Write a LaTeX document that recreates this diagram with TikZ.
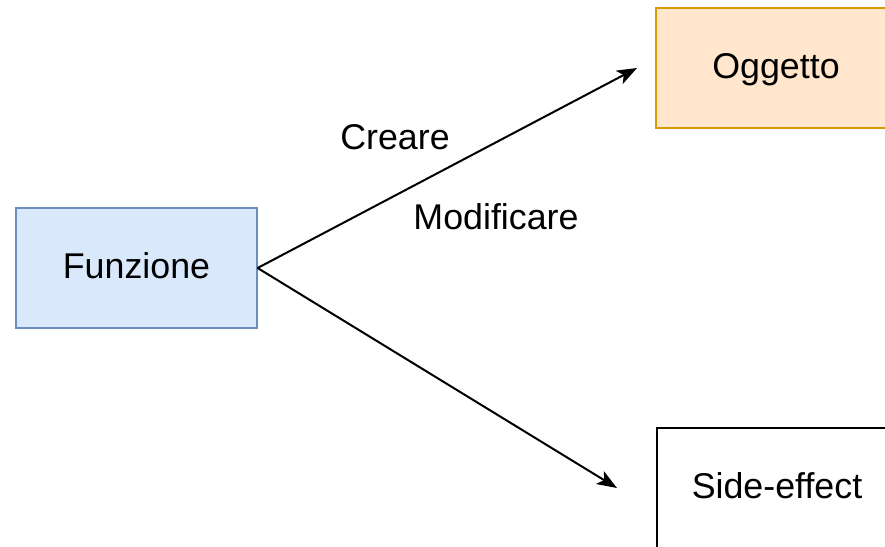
\documentclass[tikz,border=0pt]{standalone}
\usepackage{fontspec}
\setmainfont{Liberation Sans}
\usetikzlibrary{arrows.meta}
\tikzset{>={Stealth[length=10pt,width=7.5pt,inset=2.5pt]}}
\definecolor{bluefill}{HTML}{DAE8FC}
\definecolor{blueline}{HTML}{6C8EBF}
\definecolor{orangefill}{HTML}{FFE6CC}
\definecolor{orangeline}{HTML}{D79B00}
\tikzset{
  box/.style={draw, line width=0.6pt, minimum width=120pt, minimum height=60pt,
    inner sep=0pt, text height=13pt, text depth=2.5pt,
    font=\fontsize{17.9}{21}\selectfont},
  lbl/.style={font=\fontsize{17.9}{21}\selectfont, inner sep=0pt},
}

\begin{document}
\begin{tikzpicture}[x=0.5pt,y=-0.5pt]
  \useasboundingbox (0,0) rectangle (885,547);
  \clip (0,0) rectangle (885,547);
  % the three boxes
  \node[box, fill=bluefill, draw=blueline, minimum width=120.5pt] (funzione) at (136.5,268) {Funzione};
  \node[box, fill=orangefill, draw=orangeline] (oggetto) at (776,68) {Oggetto};
  \node[box, fill=white] (sideeffect) at (777,488) {Side-effect};
  % arrow tips stop short of the boxes
  \coordinate (tipo) at (637,68);
  \coordinate (tips) at (617,488);
  \draw[->, line width=1pt] (funzione.east) -- (tipo);
  \draw[->, line width=1pt] (funzione.east) -- (tips);
  \node[lbl] (creare) at (395,137) {Creare};
  \node[lbl] (modificare) at (496,217) {Modificare};
\end{tikzpicture}
\end{document}
